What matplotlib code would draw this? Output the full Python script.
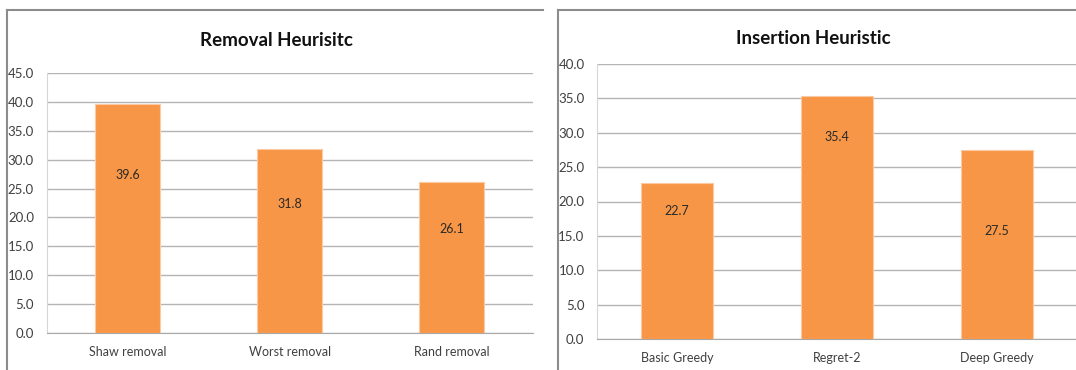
import matplotlib
matplotlib.use("Agg")
import matplotlib.pyplot as plt
from matplotlib.lines import Line2D

plt.rcParams['font.family'] = ['Lato', 'DejaVu Sans']

# removal heuristics
removal_names = ["Shaw removal", "Worst removal", "Rand removal"]
removal_vals = [39.6, 31.8, 26.1]
removal_ticks = [0, 5, 10, 15, 20, 25, 30, 35, 40, 45]

# insertion heuristics
insertion_names = ["Basic Greedy", "Regret-2", "Deep Greedy"]
insertion_vals = [22.7, 35.4, 27.5]
insertion_ticks = [0, 5, 10, 15, 20, 25, 30, 35, 40]

BAR = "#F79646"
GRID = "#b4b4b4"
BOX = "#8c8c8c"
W, H = 1076, 370

fig = plt.figure(figsize=(W / 100, H / 100), dpi=100)


def px(x0, y0, x1, y1):
    # pixel box (top-left origin) -> figure fraction rect
    return [x0 / W, 1 - y1 / H, (x1 - x0) / W, (y1 - y0) / H]


def bar_panel(rect, names, vals, ticks, width, label_frac, title, title_xy):
    ax = fig.add_axes(rect)
    xs = range(len(names))
    ax.bar(xs, vals, width=width, color=BAR, edgecolor="#fbc9a2", linewidth=0.8, zorder=3)
    for x, v, f in zip(xs, vals, label_frac):
        ax.text(x, v * f, f"{v:.1f}", ha="center", va="center", fontsize=9,
                color="#2a2a2a", zorder=4)
    ax.set_xlim(-0.5, len(names) - 0.5)
    ax.set_ylim(ticks[0], ticks[-1])
    ax.set_yticks(ticks)
    ax.set_yticklabels([f"{t:.1f}" for t in ticks], fontsize=9.5, color="#404040")
    ax.set_xticks(list(xs))
    ax.set_xticklabels(names, fontsize=9, color="#404040")
    ax.tick_params(length=0)
    ax.tick_params(axis="y", pad=9)
    ax.tick_params(axis="x", pad=9)
    ax.yaxis.grid(True, color=GRID, linewidth=1.0, zorder=0)
    for s in ("top", "right"):
        ax.spines[s].set_visible(False)
    ax.spines["left"].set_color("#d6d6d6")
    ax.spines["bottom"].set_color("#a8a8a8")
    ax.set_axisbelow(True)
    fig.text(title_xy[0] / W, 1 - title_xy[1] / H, title, ha="center", va="center",
             fontsize=13.5, fontweight="bold", color="#111111")
    return ax


bar_panel(px(46.5, 73, 533, 333), removal_names, removal_vals, removal_ticks,
          0.4, [0.69, 0.70, 0.69], "Removal Heurisitc", (276, 40))
bar_panel(px(597, 64, 1077, 339), insertion_names, insertion_vals, insertion_ticks,
          0.45, [0.82, 0.83, 0.57], "Insertion Heuristic", (813, 38))

# chart frames
for x0, x1 in ((7, 543), (558, 1076)):
    fig.add_artist(Line2D([x0 / W, x0 / W], [0, 1 - 10 / H], color=BOX, linewidth=1.5))
    fig.add_artist(Line2D([x0 / W, x1 / W], [1 - 10 / H, 1 - 10 / H], color=BOX, linewidth=1.5))

fig.savefig("out.png", dpi=100)
